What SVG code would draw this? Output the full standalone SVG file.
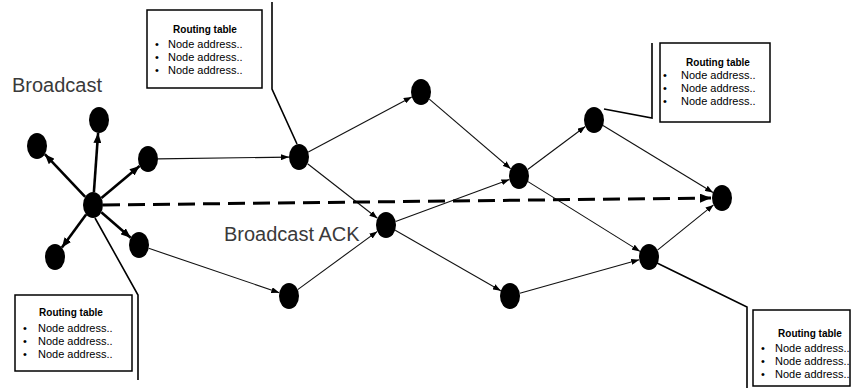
<svg xmlns="http://www.w3.org/2000/svg" width="853" height="388" viewBox="0 0 853 388">
  <defs>
    <marker id="arrowThin" markerUnits="userSpaceOnUse" markerWidth="8" markerHeight="6" refX="8" refY="3" orient="auto">
      <path d="M0,0 L8,3 L0,6 z" fill="#000"/>
    </marker>
    <marker id="arrowThick" markerUnits="userSpaceOnUse" markerWidth="10" markerHeight="8" refX="10" refY="4" orient="auto">
      <path d="M0,0 L10,4 L0,8 z" fill="#000"/>
    </marker>
    <marker id="arrowDash" markerUnits="userSpaceOnUse" markerWidth="11" markerHeight="9" refX="11" refY="4.5" orient="auto">
      <path d="M0,0 L11,4.5 L0,9 z" fill="#000"/>
    </marker>
  </defs>
  <style>
    .node { fill: #000; }
    .thin { stroke: #111; stroke-width: 1.1; fill: none; marker-end: url(#arrowThin); }
    .thick { stroke: #000; stroke-width: 2.6; fill: none; marker-end: url(#arrowThick); }
    .dash { stroke: #000; stroke-width: 3; fill: none; stroke-dasharray: 17 8; marker-end: url(#arrowDash); }
    .callout { stroke: #000; stroke-width: 1.6; fill: none; }
    .box { fill: #fff; stroke: #000; stroke-width: 1.5; }
    .title { font-family: "Liberation Sans", Arial, sans-serif; font-weight: bold; font-size: 10px; fill: #000; text-anchor: middle; }
    .item { font-family: "Liberation Sans", Arial, sans-serif; font-size: 11px; fill: #000; }
    .label { font-family: "Liberation Sans", Arial, sans-serif; font-size: 20px; fill: #3a3a3a; }
  </style>

  <rect width="853" height="388" fill="#fff"/>

  <!-- connectors -->
  <g id="connectors">
    <!-- broadcast from the source -->
    <line class="thick" x1="85.2" y1="196.8" x2="44.8" y2="154.2"/>
    <line class="thick" x1="93.9" y1="192" x2="98.1" y2="133"/>
    <line class="thick" x1="101.4" y1="198" x2="139.6" y2="166"/>
    <line class="thick" x1="101.3" y1="212.2" x2="130.7" y2="237.8"/>
    <line class="thick" x1="86.1" y1="214.4" x2="61.9" y2="247.6"/>
    <!-- forwarding -->
    <line class="thin" x1="158" y1="158.9" x2="289" y2="157.1"/>
    <line class="thin" x1="148.7" y1="248.3" x2="279.3" y2="292.7"/>
    <line class="thin" x1="308.3" y1="152.1" x2="411.7" y2="96.9"/>
    <line class="thin" x1="307.6" y1="163.7" x2="377.4" y2="218.3"/>
    <line class="thin" x1="297.7" y1="289.6" x2="377.3" y2="231.4"/>
    <line class="thin" x1="429.3" y1="99.2" x2="510.7" y2="168.8"/>
    <line class="thin" x1="395.6" y1="221.5" x2="509.4" y2="179.5"/>
    <line class="thin" x1="395.2" y1="230.2" x2="500.8" y2="290.8"/>
    <line class="thin" x1="527.7" y1="169.5" x2="585.3" y2="126.5"/>
    <line class="thin" x1="528" y1="181.6" x2="640" y2="251.4"/>
    <line class="thin" x1="519.8" y1="293.3" x2="639.2" y2="259.7"/>
    <line class="thin" x1="603" y1="125.5" x2="713" y2="192.5"/>
    <line class="thin" x1="657.5" y1="250.1" x2="713.5" y2="204.9"/>
    <!-- acknowledgement path -->
    <line class="dash" x1="103" y1="205" x2="711" y2="198"/>
    <!-- callout leaders to routing tables -->
    <polyline class="callout" points="272,2 272,89 297,144"/>
    <polyline class="callout" points="95,218 138,295 138,380"/>
    <polyline class="callout" points="604,109 652,118 652,43"/>
    <polyline class="callout" points="657,263 747,307 747,388"/>
  </g>

  <!-- nodes -->
  <g id="n-source"><ellipse class="node" cx="93" cy="205" rx="10" ry="13"/></g>
  <g id="n-a"><ellipse class="node" cx="37" cy="146" rx="10" ry="13"/></g>
  <g id="n-b"><ellipse class="node" cx="99" cy="120" rx="10" ry="13"/></g>
  <g id="n-c"><ellipse class="node" cx="148" cy="159" rx="10" ry="13"/></g>
  <g id="n-d"><ellipse class="node" cx="139" cy="245" rx="10" ry="13"/></g>
  <g id="n-e"><ellipse class="node" cx="55" cy="257" rx="10" ry="13"/></g>
  <g id="n1"><ellipse class="node" cx="299" cy="157" rx="10" ry="13"/></g>
  <g id="n2"><ellipse class="node" cx="421" cy="92" rx="10" ry="13"/></g>
  <g id="n3"><ellipse class="node" cx="386" cy="225" rx="10" ry="13"/></g>
  <g id="n4"><ellipse class="node" cx="289" cy="296" rx="10" ry="13"/></g>
  <g id="n5"><ellipse class="node" cx="519" cy="176" rx="10" ry="13"/></g>
  <g id="n6"><ellipse class="node" cx="594" cy="120" rx="10" ry="13"/></g>
  <g id="n7"><ellipse class="node" cx="510" cy="296" rx="10" ry="13"/></g>
  <g id="n8"><ellipse class="node" cx="649" cy="257" rx="10" ry="13"/></g>
  <g id="n-dest"><ellipse class="node" cx="722" cy="198" rx="10" ry="13"/></g>

  <!-- routing tables -->
  <g id="table-top">
    <rect class="box" x="147" y="10" width="115" height="78"/>
    <text class="title" x="205" y="33">Routing table</text>
    <text class="item" x="155" y="48">•</text><text class="item" x="168" y="48">Node address..</text>
    <text class="item" x="155" y="61">•</text><text class="item" x="168" y="61">Node address..</text>
    <text class="item" x="155" y="74">•</text><text class="item" x="168" y="74">Node address..</text>
  </g>
  <g id="table-left">
    <rect class="box" x="15" y="295" width="117" height="76"/>
    <text class="title" x="71" y="316">Routing table</text>
    <text class="item" x="23" y="332">•</text><text class="item" x="38" y="332">Node address..</text>
    <text class="item" x="23" y="345">•</text><text class="item" x="38" y="345">Node address..</text>
    <text class="item" x="23" y="358">•</text><text class="item" x="38" y="358">Node address..</text>
  </g>
  <g id="table-right-top">
    <rect class="box" x="660" y="43" width="110" height="79"/>
    <text class="title" x="718" y="66">Routing table</text>
    <text class="item" x="663" y="79">•</text><text class="item" x="681" y="79">Node address..</text>
    <text class="item" x="663" y="92">•</text><text class="item" x="681" y="92">Node address..</text>
    <text class="item" x="663" y="105">•</text><text class="item" x="681" y="105">Node address..</text>
  </g>
  <g id="table-right-bottom">
    <rect class="box" x="753" y="310" width="97" height="76"/>
    <text class="title" x="810" y="337">Routing table</text>
    <text class="item" x="761" y="352">•</text><text class="item" x="775" y="352">Node address..</text>
    <text class="item" x="761" y="365">•</text><text class="item" x="775" y="365">Node address..</text>
    <text class="item" x="761" y="378">•</text><text class="item" x="775" y="378">Node address..</text>
  </g>

  <!-- labels -->
  <text class="label" x="12" y="92">Broadcast</text>
  <text class="label" x="224" y="241">Broadcast ACK</text>
</svg>
